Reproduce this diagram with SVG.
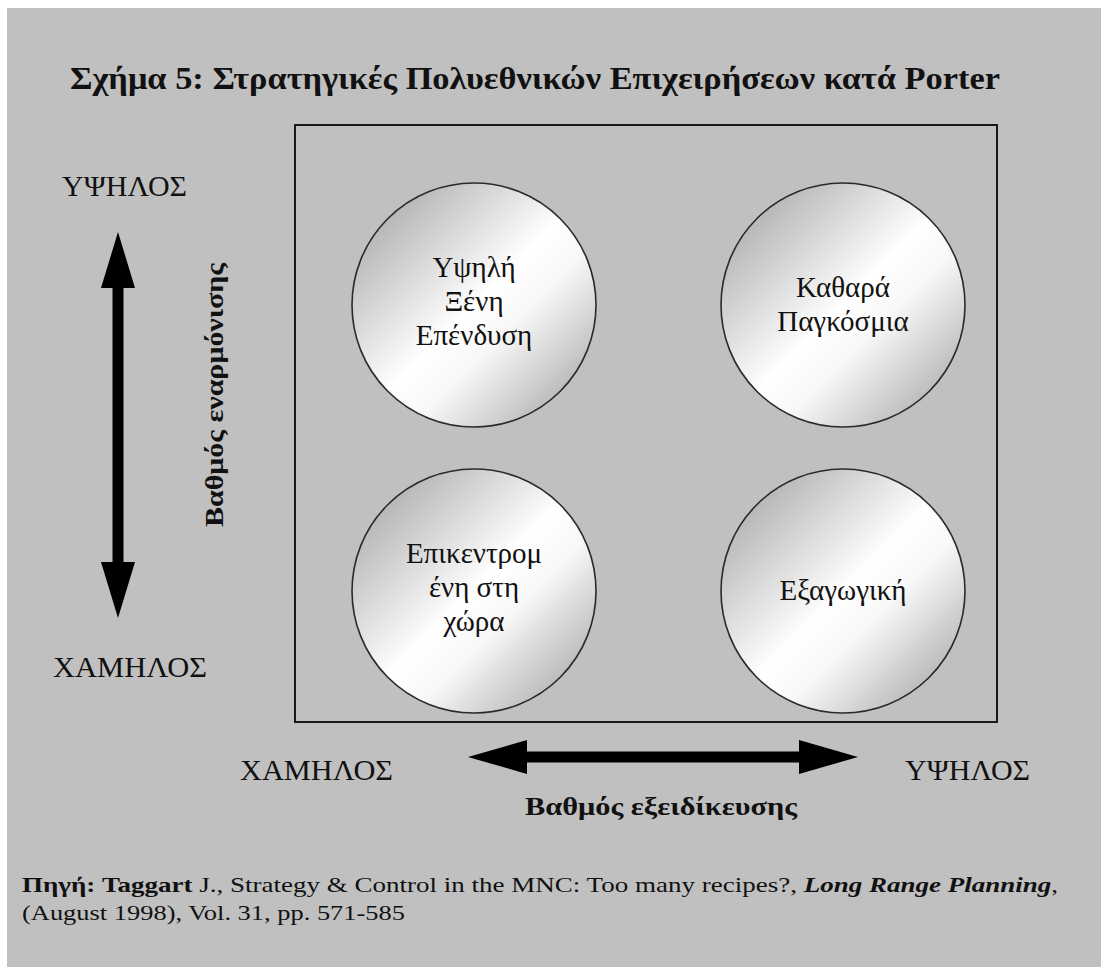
<svg xmlns="http://www.w3.org/2000/svg" width="1101" height="967" viewBox="0 0 1101 967">
  <style>
    .serif { font-family: "Liberation Serif", "Times New Roman", "DejaVu Serif", serif; fill: #111; }
    .title { font-size: 32px; font-weight: bold; }
    .axis { font-size: 29px; }
    .axis-name { font-size: 26px; font-weight: bold; }
    .node-text { font-size: 29px; text-anchor: middle; }
    .note { font-size: 22px; }
    .bubble { fill: url(#sheen); stroke: #2a2a2a; stroke-width: 1.6; }
    .frame { fill: none; stroke: #1a1a1a; stroke-width: 2; }
    .arrow { fill: #000; }
  </style>
  <defs>
    <linearGradient id="sheen" x1="0" y1="0" x2="1" y2="1">
      <stop offset="0" stop-color="#9a9a9a"/>
      <stop offset="0.5" stop-color="#ffffff"/>
      <stop offset="0.62" stop-color="#f8f8f8"/>
      <stop offset="1" stop-color="#989898"/>
    </linearGradient>
  </defs>

  <!-- page -->
  <rect x="0" y="0" width="1101" height="967" fill="#ffffff"/>
  <rect x="7" y="8" width="1094" height="959" fill="#c0c0c0"/>

  <text class="serif title" x="70" y="89" textLength="930" lengthAdjust="spacingAndGlyphs">Σχήμα 5: Στρατηγικές Πολυεθνικών Επιχειρήσεων κατά Porter</text>

  <!-- matrix frame -->
  <rect class="frame" x="295" y="125" width="702" height="597"/>

  <!-- axis labels -->
  <g id="axis-labels">
    <text class="serif axis" x="62" y="196" textLength="125" lengthAdjust="spacingAndGlyphs">ΥΨΗΛΟΣ</text>
    <text class="serif axis" x="53" y="677" textLength="154" lengthAdjust="spacingAndGlyphs">ΧΑΜΗΛΟΣ</text>
    <text class="serif axis" x="240" y="780" textLength="153" lengthAdjust="spacingAndGlyphs">ΧΑΜΗΛΟΣ</text>
    <text class="serif axis" x="905" y="780" textLength="125" lengthAdjust="spacingAndGlyphs">ΥΨΗΛΟΣ</text>
    <text class="serif axis-name" x="223" y="527" transform="rotate(-90 223 527)" textLength="264" lengthAdjust="spacingAndGlyphs">Βαθμός εναρμόνισης</text>
    <text class="serif axis-name" x="525" y="815" textLength="272" lengthAdjust="spacingAndGlyphs">Βαθμός εξειδίκευσης</text>
  </g>

  <!-- axis arrows -->
  <g id="connectors">
    <polygon class="arrow" points="118,232 135,288 123.5,288 123.5,562 135,562 118,618 101,562 112.5,562 112.5,288 101,288"/>
    <polygon class="arrow" points="468,757 527,740 527,751.5 799,751.5 799,740 858,757 799,774 799,762.5 527,762.5 527,774"/>
  </g>

  <!-- strategy bubbles -->
  <g id="high-foreign-investment">
    <circle class="bubble" cx="474" cy="305" r="122"/>
    <text class="serif node-text" x="474" y="277">Υψηλή</text>
    <text class="serif node-text" x="474" y="311">Ξένη</text>
    <text class="serif node-text" x="474" y="345">Επένδυση</text>
  </g>
  <g id="pure-global">
    <circle class="bubble" cx="843" cy="305" r="122"/>
    <text class="serif node-text" x="843" y="297">Καθαρά</text>
    <text class="serif node-text" x="843" y="331">Παγκόσμια</text>
  </g>
  <g id="country-centered">
    <circle class="bubble" cx="474" cy="591" r="122"/>
    <text class="serif node-text" x="474" y="563">Επικεντρομ</text>
    <text class="serif node-text" x="474" y="597">ένη στη</text>
    <text class="serif node-text" x="474" y="631">χώρα</text>
  </g>
  <g id="export">
    <circle class="bubble" cx="843" cy="591" r="122"/>
    <text class="serif node-text" x="843" y="600">Εξαγωγική</text>
  </g>

  <!-- source note -->
  <text class="serif note" x="22" y="892" textLength="1036" lengthAdjust="spacingAndGlyphs"><tspan font-weight="bold">Πηγή: Taggart</tspan> J., Strategy &amp; Control in the MNC: Too many recipes?, <tspan font-weight="bold" font-style="italic">Long Range Planning</tspan>,</text>
  <text class="serif note" x="22" y="920" textLength="383" lengthAdjust="spacingAndGlyphs">(August 1998), Vol. 31, pp. 571-585</text>
</svg>
